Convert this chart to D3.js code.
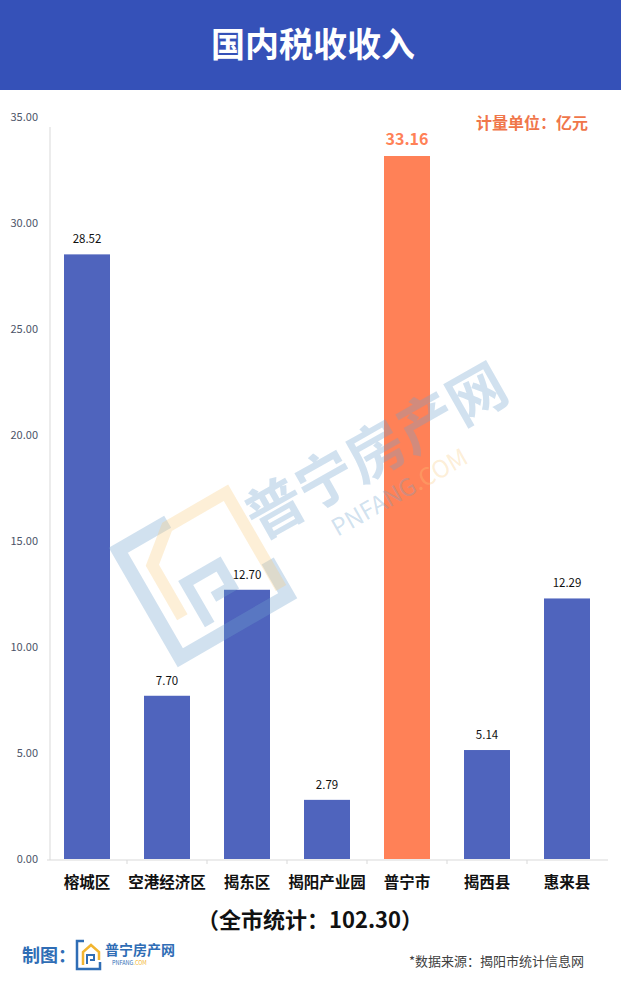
<!DOCTYPE html>
<html><head><meta charset="utf-8">
<script src="https://cdn.jsdelivr.net/npm/d3@7"></script>
<style>
html,body{margin:0;padding:0;background:#fff;}
svg{display:block;}
text{font-family:"Noto Sans CJK SC","Noto Sans",sans-serif;}
</style></head>
<body>
<svg id="chart" width="621" height="983"></svg>
<script>
const categories = ["榕城区","空港经济区","揭东区","揭阳产业园","普宁市","揭西县","惠来县"];
const values = [28.52, 7.70, 12.70, 2.79, 33.16, 5.14, 12.29];
const highlight = "普宁市";
const yTicks = [0,5,10,15,20,25,30,35];
const title = "国内税收收入";
const unitLabel = "计量单位：亿元";
const totalLabel = "（全市统计：102.30）";
const sourceLabel = "*数据来源：揭阳市统计信息网";

const svg = d3.select("#chart");
const W = 621;
const blue = "#4F64BD", orange = "#FF8157";

// header
svg.append("rect").attr("x",0).attr("y",0).attr("width",W).attr("height",90).attr("fill","#3551B8");
svg.append("text").attr("x",313).attr("y",57).attr("text-anchor","middle")
  .attr("font-size",34).attr("font-weight","bold").attr("fill","#fff").text(title);

// scales
const x = d3.scaleBand().domain(categories).range([47,607]).paddingInner(0.425).paddingOuter(0.2125);
const y = d3.scaleLinear().domain([0,35]).range([859,117]);

// y axis
const yAxis = svg.append("g").attr("transform","translate(50,0)")
  .call(d3.axisLeft(y).tickValues(yTicks).tickFormat(d3.format(".2f")).tickSize(0).tickPadding(12));
yAxis.select(".domain").remove();
yAxis.append("line").attr("x1",0).attr("x2",0).attr("y1",127).attr("y2",860).attr("stroke","#d9d9d9");
yAxis.selectAll(".tick text").attr("font-size",11).attr("fill","#4c5468")
  .attr("font-family","Noto Sans, sans-serif");

// x axis
const xAxis = svg.append("g").attr("transform","translate(0,860)")
  .call(d3.axisBottom(x).tickSize(0).tickPadding(17));
xAxis.select(".domain").attr("d","M47,0H608").attr("stroke","#d9d9d9");
xAxis.selectAll(".tick text").attr("font-size",15.5).attr("font-weight","bold").attr("fill","#111");
const bounds = categories.map((c,i)=>x(c)-x.step()*x.paddingInner()/2).slice(1);
svg.append("g").selectAll("line").data(bounds).join("line")
  .attr("x1",d=>d).attr("x2",d=>d).attr("y1",860).attr("y2",864).attr("stroke","#d9d9d9");

// bars
svg.append("g").selectAll("rect").data(categories).join("rect")
  .attr("x",d=>x(d)).attr("width",x.bandwidth())
  .attr("y",(d,i)=>y(values[i])).attr("height",(d,i)=>y(0)-y(values[i]))
  .attr("fill",d=>d===highlight?orange:blue);

// watermark (semi-transparent, above bars)
const wb = "#6fa3cc", wy = "#f9c97a";
const wm = svg.append("g");
const ic = wm.append("g").attr("transform","translate(203,573) rotate(-30)");
ic.append("path").attr("d","M-5,-62 L-62,-62 L-62,62 L62,62 L62,22")
  .attr("fill","none").attr("stroke",wb).attr("stroke-opacity",0.32).attr("stroke-width",14);
ic.append("path").attr("d","M-40,28 L-40,-32 L-8,-58 L60,-58 L60,52")
  .attr("fill","none").attr("stroke",wy).attr("stroke-opacity",0.3).attr("stroke-width",12);
ic.append("path").attr("d","M-20,48 L-20,0 L18,0 L18,26 L-3,26")
  .attr("fill","none").attr("stroke",wb).attr("stroke-opacity",0.32).attr("stroke-width",11);
const wt = wm.append("g").attr("transform","translate(376,451) rotate(-29.5)");
wt.append("text").attr("x",0).attr("y",21).attr("text-anchor","middle")
  .attr("font-size",58).attr("font-weight","bold").attr("fill",wb).attr("fill-opacity",0.32).text("普宁房产网");
const wt2 = wt.append("text").attr("x",0).attr("y",56).attr("text-anchor","middle")
  .attr("font-size",24).attr("font-family","Noto Sans, sans-serif");
wt2.append("tspan").attr("fill",wb).attr("fill-opacity",0.32).text("PNFANG");
wt2.append("tspan").attr("fill",wy).attr("fill-opacity",0.3).text(".COM");

// value labels
svg.append("g").selectAll("text").data(categories).join("text")
  .attr("x",d=>x(d)+x.bandwidth()/2)
  .attr("y",(d,i)=>y(values[i])-11)
  .attr("text-anchor","middle")
  .attr("font-family","Noto Sans, sans-serif")
  .attr("font-size",d=>d===highlight?16:11.5)
  .attr("font-weight",d=>d===highlight?"bold":"normal")
  .attr("fill",d=>d===highlight?orange:"#111")
  .text((d,i)=>values[i].toFixed(2));

// unit label
svg.append("text").attr("x",588).attr("y",129).attr("text-anchor","end")
  .attr("font-size",16).attr("font-weight","bold").attr("fill","#F0764A").text(unitLabel);

// total
svg.append("text").attr("x",310).attr("y",928).attr("text-anchor","middle")
  .attr("font-size",22).attr("font-weight","bold").attr("fill","#111").text(totalLabel);

// footer
svg.append("text").attr("x",22).attr("y",962).attr("font-size",18).attr("font-weight","bold")
  .attr("fill","#2f6db5").text("制图：");
const lg = svg.append("g").attr("transform","translate(76,940)");
lg.append("path").attr("d","M8,1 L1,1 L1,29 L24,29 L24,22").attr("fill","none").attr("stroke","#2f6db5").attr("stroke-width",2.5);
lg.append("path").attr("d","M7,25 L7,12 L15,5 L23,12 L23,20").attr("fill","none").attr("stroke","#f2b530").attr("stroke-width",2.5);
lg.append("path").attr("d","M11,24 L11,15 L18,15 L18,20 L14,20").attr("fill","none").attr("stroke","#2f6db5").attr("stroke-width",2);
lg.append("text").attr("x",29).attr("y",15).attr("font-size",14).attr("font-weight","bold").attr("fill","#2f6db5").text("普宁房产网");
const lt = lg.append("text").attr("x",36).attr("y",25).attr("font-size",5.5).attr("font-family","Noto Sans, sans-serif");
lt.append("tspan").attr("fill","#2f6db5").text("PNFANG");
lt.append("tspan").attr("fill","#f2b530").text(".COM");

svg.append("text").attr("x",584).attr("y",966).attr("text-anchor","end")
  .attr("font-size",13).attr("fill","#404040").text(sourceLabel);
</script>
</body></html>
